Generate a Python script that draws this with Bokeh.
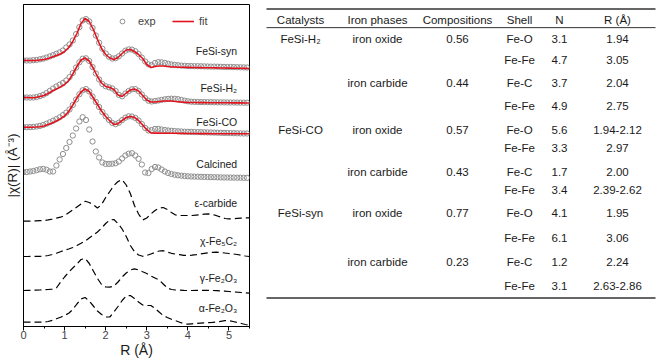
import numpy as np
from bokeh.plotting import figure
from bokeh.models import (Range1d, SingleIntervalTicker, FixedTicker, Legend,
                          LegendItem)
from bokeh.layouts import row
from bokeh.embed import file_html
from bokeh.resources import INLINE
from bokeh.core.properties import value

FONT = "Liberation Sans"

# ---------------- chart data (R in Å, |chi(R)| in arbitrary stacked units) ----------
r_line = np.round(np.arange(56) * 0.1, 2)   # 0.0 .. 5.5
r_exp = np.round(np.arange(69) * 0.08, 2)   # 0.00 .. 5.44

syn_exp = [266, 266, 266, 266.3, 266.6, 267.2, 267.9, 268.9, 270.1, 271.3,
           272.7, 274.1, 276, 279, 282, 286, 292.4, 299.4, 306, 307.4,
           305, 298.6, 291, 283.8, 277.8, 273, 269.8, 268, 268.3, 270.2,
           273, 275.8, 277.1, 276.9, 275.3, 272.5, 268.9, 265, 262.2, 261.5,
           263.5, 264.3, 264.2, 263.6, 262.8, 262, 261.6, 261.2, 260.9, 260.7,
           260.5, 260.4, 260.3, 260.3, 260.2, 260.1, 260, 259.9, 259.9, 259.8,
           259.7, 259.6, 259.5, 259.5, 259.4, 259.3, 259.2, 259.1, 259]
syn_fit = [266, 266, 266, 266, 266.5, 267, 268, 269.5, 271, 272.5,
           275, 279, 285, 293, 303, 308, 305, 297, 287, 278,
           272, 268.5, 267, 269, 273, 276.5, 277, 275, 272, 268,
           262, 259, 260, 260.5, 260.5, 260, 259.5, 259.5, 259.3, 259.2,
           259.1, 259, 259, 258.9, 258.8, 258.8, 258.7, 258.6, 258.5, 258.5,
           258.4, 258.3, 258.2, 258.2, 258.1, 258]

h2_exp = [229, 229, 228.9, 229, 229.5, 230.4, 231.6, 233.4, 235.6, 238,
          240, 241.8, 243.6, 246, 249.4, 253.5, 259, 264.2, 267.8, 268.2,
          265.5, 259.5, 253, 247, 242.5, 240.2, 239.2, 238, 235.5, 231.6,
          230.2, 233, 235.5, 237.2, 237.4, 235.5, 232, 228.3, 225.8, 225,
          225.4, 226, 226.6, 227.2, 227.6, 227.8, 227.7, 227.3, 226.6, 225.8,
          225.2, 224.8, 224.6, 224.5, 224.4, 224.4, 224.3, 224.3, 224.2, 224.2,
          224.1, 224.1, 224, 224, 224, 223.9, 223.9, 223.8, 223.8]
h2_fit = [229, 229, 228.8, 229, 230, 231, 233, 235.5, 237.5, 239.5,
          242, 246, 252.5, 260, 266.5, 268.5, 265.5, 258, 250, 243.5,
          240, 239, 237, 231.5, 230, 233.5, 236.5, 237.5, 235.5, 231,
          226.5, 224.5, 224.5, 225, 225.5, 225.5, 225.5, 225, 224.6, 224.3,
          224.1, 224, 224, 223.9, 223.9, 223.8, 223.8, 223.8, 223.7, 223.7,
          223.7, 223.6, 223.6, 223.6, 223.5, 223.5]

co_exp = [199.3, 199.3, 199.4, 199.6, 200, 200.6, 201.5, 202.8, 204.2, 205.8,
          207.4, 209.2, 211.4, 213.8, 217, 221.5, 227, 232.2, 236.2, 237.4,
          235, 230, 224.6, 219.5, 214.4, 210.2, 206.6, 203.6, 202.4, 203.8,
          206.4, 208.8, 210.2, 210, 208.6, 206, 202.4, 198.6, 196, 196.5,
          197.6, 197.6, 197, 196.5, 196, 195.7, 195.4, 195.2, 195, 194.8,
          194.7, 194.6, 194.5, 194.4, 194.3, 194.2, 194.1, 194, 193.9, 193.8,
          193.7, 193.6, 193.5, 193.4, 193.3, 193.2, 193.1, 193, 193]
co_fit = [199.3, 199.3, 199.3, 199.5, 199.8, 200.5, 202, 203.6, 205.5, 207.8,
          210.5, 215, 221.5, 228.5, 234.5, 237.6, 235, 228.5, 222, 215.5,
          210, 205.7, 202, 202.8, 206, 209, 210, 209.2, 206, 201.5,
          196.8, 193.5, 193.4, 193.4, 193.3, 193.3, 193.2, 193.2, 193.1, 193.1,
          193, 193, 193, 192.9, 192.9, 192.9, 192.8, 192.8, 192.8, 192.8,
          192.7, 192.7, 192.7, 192.7, 192.7, 192.7]

calcined_exp = [154.3, 154.5, 155, 155.5, 156.3, 157.2, 157.6, 156.8, 155, 155,
                161, 167, 172.5, 178.5, 184.5, 191, 198, 205, 209.3, 206.5,
                197, 185, 175, 169, 164, 162.6, 162.6, 162.8, 163.2, 165,
                168, 171, 172.8, 173.3, 171, 167.7, 162, 154, 153.5, 157.5,
                159.5, 159, 157, 155, 153.5, 152.5, 151.8, 151.2, 150.8, 150.5,
                150.2, 150, 149.9, 149.8, 149.7, 149.6, 149.5, 149.4, 149.3, 149.2,
                149.1, 149, 149, 148.9, 148.9, 148.8, 148.8, 148.7, 148.7]

eps_carbide = [105.3, 105.4, 105.5, 105.6, 105.8, 106, 106.6, 107.4, 108.3, 109.3,
               111, 113.8, 116.5, 119.5, 122.5, 125.3, 124, 121.8, 118.5, 122,
               129, 135, 141, 145, 146.7, 141.5, 133, 121, 112.5, 106.5,
               108.5, 112.5, 116, 118.5, 119, 117, 114, 111.5, 111, 111,
               111, 111, 111.4, 111.8, 112.4, 112.6, 112, 110.8, 109.5, 108,
               107.6, 107.8, 108.1, 108.4, 108.6, 108.7]
chi_fe5c2 = [70, 70, 70.1, 70.1, 70.2, 70.3, 71, 72, 73.2, 74.8,
             76.2, 77.5, 79, 81, 83.2, 85.5, 88.5, 91.5, 94.5, 98.5,
             103, 106.5, 107, 103, 97.5, 90, 81, 75, 71.5, 70.2,
             71, 72.5, 74, 75.5, 75.8, 74.5, 73.2, 72.4, 71.8, 71.2,
             71, 71.3, 71.8, 72.5, 73.2, 73.8, 74.2, 74.3, 74, 73.5,
             73, 72.6, 72, 71.2, 70.5, 70]
gamma_fe2o3 = [36, 36.1, 36.2, 36.4, 36.5, 36.7, 37, 37.3, 38.5, 44.3,
               49.5, 54.5, 58.5, 62.5, 67, 68, 63, 55.5, 48, 42,
               39.5, 39.3, 40.5, 44.5, 49.5, 53.5, 56.5, 57.7, 56.5, 54.7,
               53, 50.5, 48.5, 46.5, 42.5, 38.5, 37, 36.5, 36.3, 36.1,
               36, 36, 36.1, 36.2, 36.2, 36.1, 36, 35.8, 35.5, 35.3,
               35, 34.7, 34.3, 34, 33.6, 33.3]
alpha_fe2o3 = [4.3, 4.3, 4.3, 4.3, 4.3, 4.4, 5, 6.2, 7.8, 9.3,
               11, 13.3, 17, 22.5, 27.5, 29, 25.5, 20.5, 15.5, 12,
               9.5, 9.5, 14.5, 20, 26, 30.5, 31, 28, 24.5, 21.5,
               21, 21, 18, 14.5, 11, 9, 7.3, 5.8, 4.3, 2.8,
               2.3, 2.7, 3, 3.3, 3.6, 3.9, 4.2, 4.6, 5.2, 5.8,
               5.8, 5, 4, 3, 2, 1.3]

curve_labels = ["FeSi-syn", "FeSi-H₂", "FeSi-CO", "Calcined",
                "ε-carbide", "χ-Fe₅C₂", "γ-Fe₂O₃", "α-Fe₂O₃"]

# ---------------- table data ----------------
headers = ["Catalysts", "Iron phases", "Compositions", "Shell", "N", "R (Å)"]
catalysts = ["FeSi-H₂", "FeSi-CO", "FeSi-syn"]
phases = ["iron oxide", "iron carbide"] * 3
compositions = ["0.56", "0.44", "0.57", "0.43", "0.77", "0.23"]
shells = ["Fe-O", "Fe-Fe", "Fe-C", "Fe-Fe"] * 3
coord_n = ["3.1", "4.7", "3.7", "4.9", "5.6", "3.3", "1.7", "3.4", "4.1", "6.1", "1.2", "3.1"]
dist_r = ["1.94", "3.05", "2.04", "2.75", "1.94-2.12", "2.97", "2.00", "2.39-2.62",
          "1.95", "3.06", "2.24", "2.63-2.86"]

# ---------------- layout constants ----------------
label_x = 5.2
label_y = [276, 239, 205, 163, 124, 86, 49, 19]
col_x = [300, 377, 457, 519, 559, 617]
header_y = 17
row_y = [39, 62, 88, 114, 141, 161, 188, 208, 234, 263, 290, 316]
rule_y = [5, 26, 330]

# ---------------- chart ----------------
p = figure(width=258, height=362, x_range=Range1d(0, 5.5), y_range=Range1d(0, 322),
           output_backend="svg", toolbar_location=None,
           min_border_left=23, min_border_right=9, min_border_top=4, min_border_bottom=36)
p.xgrid.visible = False
p.ygrid.visible = False
p.outline_line_color = "black"
p.outline_line_width = 1
p.background_fill_color = "white"

xa = p.xaxis[0]
xa.ticker = SingleIntervalTicker(interval=1, num_minor_ticks=2)
xa.axis_label = "R (Å)"
xa.axis_label_text_font = FONT
xa.axis_label_text_font_style = "normal"
xa.axis_label_text_font_size = "14px"
xa.axis_label_text_color = "#1a1a1a"
xa.axis_label_standoff = 0
xa.major_label_text_font = FONT
xa.major_label_text_font_size = "11px"
xa.major_label_standoff = 0
xa.major_tick_in = 0
xa.major_tick_out = 4
xa.minor_tick_in = 0
xa.minor_tick_out = 2
xa.axis_line_color = "black"

ya = p.yaxis[0]
ya.ticker = FixedTicker(ticks=[])
ya.axis_label = "|χ(R)| (Å⁻³)"
ya.axis_label_text_font = FONT
ya.axis_label_text_font_style = "normal"
ya.axis_label_text_font_size = "13.5px"
ya.axis_label_text_color = "#1a1a1a"
ya.axis_label_standoff = 4
ya.major_tick_in = 0
ya.major_tick_out = 0
ya.minor_tick_in = 0
ya.minor_tick_out = 0
ya.major_label_text_font_size = "0px"
ya.axis_line_color = "black"

EXP_COLOR = "#8e8e8e"
FIT_COLOR = "#e3121c"

exp_renderers = []
fit_renderers = []
for ye, yf in [(syn_exp, syn_fit), (h2_exp, h2_fit), (co_exp, co_fit)]:
    exp_renderers.append(p.scatter(r_exp, ye, marker="circle", size=5.3,
                                   line_color=EXP_COLOR, fill_color=None, line_width=1))
    fit_renderers.append(p.line(r_line, yf, line_color=FIT_COLOR, line_width=1.6))
p.scatter(r_exp, calcined_exp, marker="circle", size=5.3,
          line_color=EXP_COLOR, fill_color=None, line_width=1)
for yr in [eps_carbide, chi_fe5c2, gamma_fe2o3, alpha_fe2o3]:
    p.line(r_line, yr, line_color="black", line_width=1.2, line_dash="7 4")

p.text(x=[label_x] * len(curve_labels), y=label_y, text=curve_labels,
       text_align="right", text_baseline="middle", text_font=value(FONT),
       text_font_size="10.5px", text_color="#1a1a1a")

# legend: location gives its bottom-left corner in px from the frame's bottom-left
legend = Legend(items=[LegendItem(label="exp", renderers=[exp_renderers[0]]),
                       LegendItem(label="fit", renderers=[fit_renderers[0]])],
                orientation="horizontal", location=(88, 299),
                border_line_color=None, background_fill_alpha=0,
                label_text_font=FONT, label_text_font_size="11px",
                glyph_width=22, glyph_height=12, label_standoff=5,
                spacing=14, padding=0, margin=0)
p.add_layout(legend)

# ---------------- table ----------------
t = figure(width=402, height=362, x_range=Range1d(258, 660), y_range=Range1d(362, 0),
           output_backend="svg", toolbar_location=None, min_border=0,
           x_axis_location=None, y_axis_location=None, outline_line_color=None)
t.xgrid.visible = False
t.ygrid.visible = False

t.segment(x0=[266] * 3, y0=rule_y, x1=[655] * 3, y1=rule_y,
          line_color="#333333", line_width=[1.6, 1, 1.6])

TXT = dict(text_align="center", text_baseline="middle", text_font=value(FONT),
           text_font_size="11.5px", text_color="#1a1a1a")
t.text(x=col_x, y=[header_y] * len(headers), text=headers, **TXT)
t.text(x=[col_x[0]] * 3, y=[row_y[0], row_y[4], row_y[8]], text=catalysts, **TXT)
t.text(x=[col_x[1]] * 6, y=row_y[0::2], text=phases, **TXT)
t.text(x=[col_x[2]] * 6, y=row_y[0::2], text=compositions, **TXT)
t.text(x=[col_x[3]] * 12, y=row_y, text=shells, **TXT)
t.text(x=[col_x[4]] * 12, y=row_y, text=coord_n, **TXT)
t.text(x=[col_x[5]] * 12, y=row_y, text=dist_r, **TXT)

layout = row(p, t)
open("out.html", "w").write(file_html(layout, INLINE))
